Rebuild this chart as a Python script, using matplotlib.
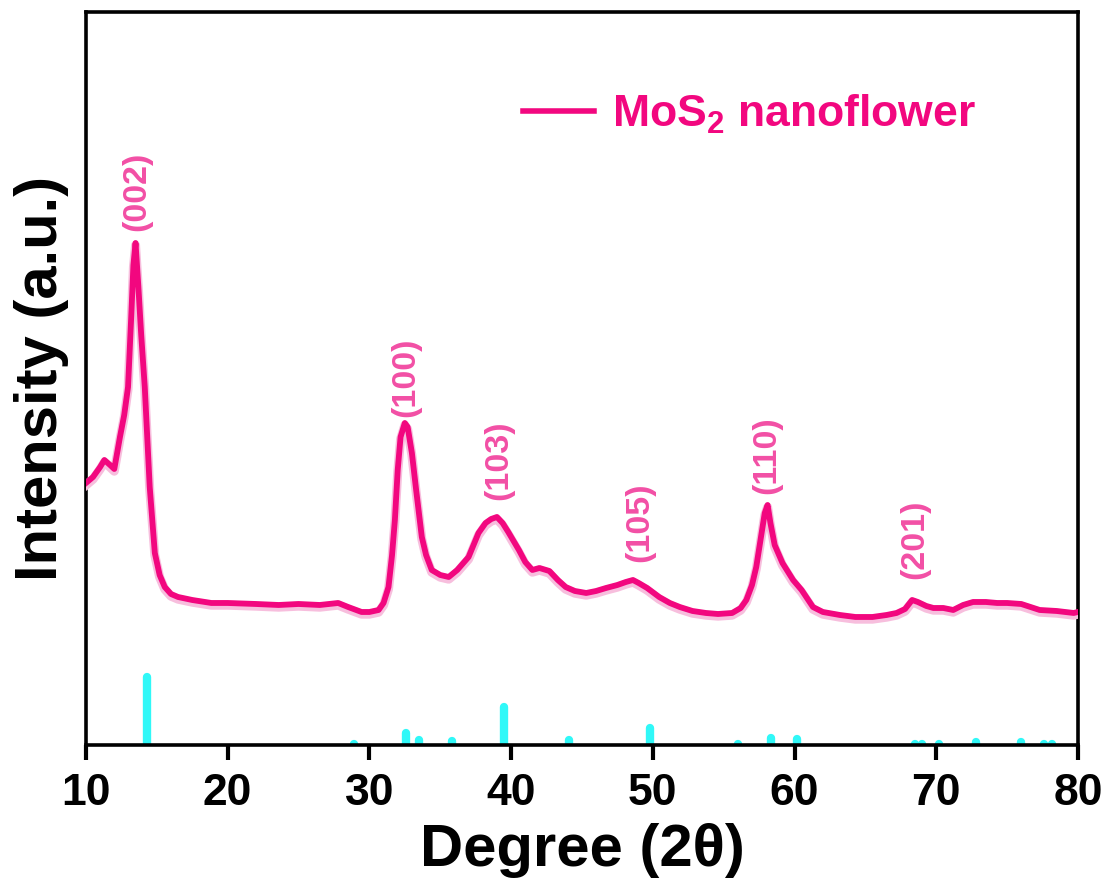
import matplotlib
matplotlib.use("Agg")
import matplotlib.pyplot as plt
import matplotlib.transforms as mtransforms

plt.rcParams['font.family'] = ['Liberation Sans', 'DejaVu Sans']
plt.rcParams['font.weight'] = 'bold'
plt.rcParams['mathtext.fontset'] = 'custom'
plt.rcParams['mathtext.rm'] = 'Liberation Sans:bold'
plt.rcParams['mathtext.bf'] = 'Liberation Sans:bold'

# XRD pattern (2theta, intensity a.u.)
two_theta = [10.0, 10.5, 11.0, 11.3, 11.7, 12.0, 12.2, 12.4, 12.7, 12.97, 13.2, 13.35, 13.5,
             13.7, 13.9, 14.15, 14.5, 14.86, 15.2, 15.56, 16.0, 16.5, 17.5, 18.85, 20.0,
             22.0, 23.6, 25.0, 26.5, 27.8, 28.5, 29.45, 30.0, 30.65, 31.0, 31.35, 31.6,
             31.8, 32.0, 32.2, 32.5, 32.7, 33.0, 33.3, 33.7, 34.0, 34.4, 35.0, 35.6, 36.2,
             37.0, 37.7, 38.2, 38.6, 39.0, 39.4, 39.8, 40.55, 41.0, 41.5, 42.0, 42.7, 43.3,
             43.85, 44.5, 45.3, 46.0, 46.7, 47.5, 48.1, 48.6, 49.0, 49.6, 50.45, 51.2, 51.9,
             52.8, 53.75, 54.6, 55.6, 56.2, 56.6, 57.0, 57.3, 57.6, 57.9, 58.1, 58.3, 58.6,
             59.15, 59.9, 60.5, 61.3, 62.0, 63.2, 64.3, 65.5, 66.5, 67.2, 67.8, 68.3, 68.7,
             69.3, 69.8, 70.5, 71.2, 71.9, 72.6, 73.5, 74.3, 75.0, 76.0, 77.3, 78.5, 79.7, 80.0]
intensity = [262, 268, 278, 285, 280, 276, 292, 308, 330, 358, 430, 480, 502,
             458, 410, 358, 258, 192, 170, 158, 151, 148, 145, 142, 142,
             141, 140, 141, 140, 142, 138, 133, 133, 135, 142, 158, 190,
             225, 275, 308, 322, 318, 292, 255, 208, 190, 175, 170, 168, 175,
             188, 212, 222, 226, 228, 222, 213, 195, 183, 175, 177, 174, 165,
             158, 154, 152, 154, 157, 160, 163, 165, 162, 157, 148, 142, 138,
             134, 132, 131, 132, 137, 145, 160, 178, 205, 232, 240, 222, 200,
             182, 165, 155, 138, 133, 130, 128, 128, 130, 132, 136, 145, 143,
             139, 137, 137, 135, 140, 143, 143, 142, 142, 141, 135, 134, 132, 133]

# Reference pattern sticks
ref_pos = [14.3, 28.95, 32.6, 33.5, 35.8, 39.5, 44.1, 49.8, 56.0, 58.35, 60.2, 62.8,
           66.5, 68.5, 69.0, 70.2, 72.8, 76.0, 77.6, 78.2]
ref_int = [68, 0.5, 12, 4.5, 3.5, 38, 4.5, 17, 0.5, 6.5, 5.5, 0.3,
           0.2, 0.5, 0.5, 1.0, 2.5, 2.5, 0.5, 0.5]

# Peak labels
peak_labels = ['(002)', '(100)', '(103)', '(105)', '(110)', '(201)']
peak_x = [13.6, 32.6, 39.15, 49.1, 58.05, 68.5]
peak_y = [554, 368, 285, 223, 290, 206]

series_name = 'MoS$_2$ nanoflower'

line_color = '#F2077F'
halo_color = '#F7BEDD'
label_color = '#F24FA5'
stick_color = '#30F8F8'

fig = plt.figure(figsize=(11.09, 8.83), dpi=100)
ax = fig.add_axes([0.0775, 0.1563, 0.8945, 0.8301])

ax.vlines(ref_pos, 0, ref_int, colors=stick_color, linewidth=6, capstyle='round', zorder=2)

halo_tr = mtransforms.offset_copy(ax.transData, fig=fig, x=0, y=-2.2, units='dots')
ax.plot(two_theta, intensity, color=halo_color, linewidth=6.5, transform=halo_tr,
        solid_joinstyle='round', zorder=3)
line, = ax.plot(two_theta, intensity, color=line_color, linewidth=4.2,
                solid_joinstyle='round', zorder=4, label=series_name)

for lab, px, py in zip(peak_labels, peak_x, peak_y):
    ax.text(px, py, lab, rotation=90, ha='center', va='center', color=label_color,
            fontsize=24.5, fontweight='bold')

leg = ax.legend(handles=[line], loc='upper right', bbox_to_anchor=(0.937, 0.945),
                frameon=False, handlelength=1.6, handletextpad=0.4,
                labelcolor=line_color, prop={'weight': 'bold', 'size': 32})
for h in leg.get_lines():
    h.set_linewidth(4)

ax.set_xlim(10, 80)
ax.set_ylim(0, 733)
ax.set_xticks([10, 20, 30, 40, 50, 60, 70, 80])
ax.set_yticks([])
ax.tick_params(axis='x', direction='out', length=11, width=3, labelsize=32, pad=9)
for lbl in ax.get_xticklabels():
    lbl.set_fontweight('bold')
for sp in ax.spines.values():
    sp.set_linewidth(2.6)

ax.set_xlabel('Degree (2θ)', fontsize=43, fontweight='bold', labelpad=7)
ax.set_ylabel('Intensity (a.u.)', fontsize=43, fontweight='bold', labelpad=12)

fig.savefig('out.png', dpi=100)
